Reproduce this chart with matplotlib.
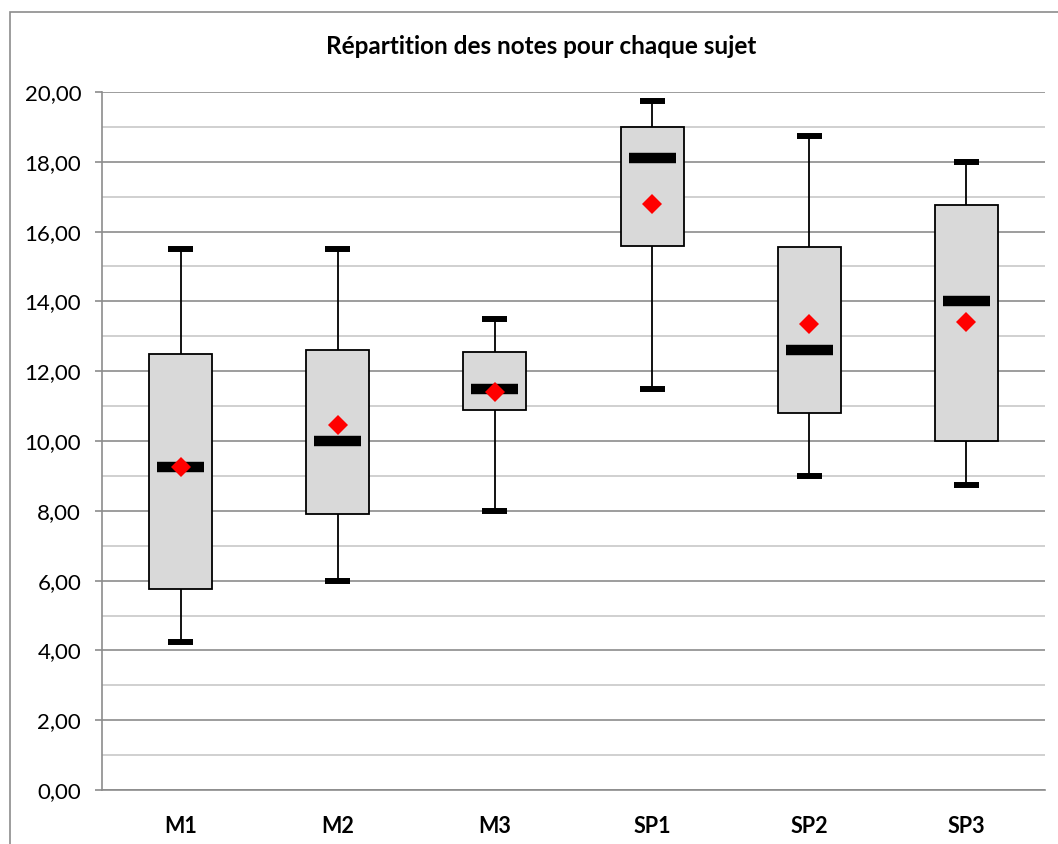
import matplotlib
matplotlib.use("Agg")
import matplotlib.pyplot as plt
from matplotlib.patches import Rectangle
from matplotlib.ticker import FuncFormatter, MultipleLocator

# données
sujets = ["M1", "M2", "M3", "SP1", "SP2", "SP3"]
minimums = [4.25, 6.0, 8.0, 11.5, 9.0, 8.75]
q1 = [5.75, 7.9, 10.9, 15.6, 10.8, 10.0]
medianes = [9.25, 10.0, 11.5, 18.1, 12.6, 14.0]
q3 = [12.5, 12.6, 12.55, 19.0, 15.55, 16.75]
maximums = [15.5, 15.5, 13.5, 19.75, 18.75, 18.0]
moyennes = [9.25, 10.45, 11.4, 16.8, 13.35, 13.4]

plt.rcParams['font.family'] = ['Lato', 'DejaVu Sans']

fig = plt.figure(figsize=(10.58, 8.44), dpi=100)
ax = fig.add_axes([102 / 1058, 1 - 790 / 844, 943 / 1058, 698 / 844])

x = list(range(1, len(sujets) + 1))
hauteurs = [b - a for a, b in zip(q1, q3)]

# boites
ax.bar(x, hauteurs, bottom=q1, width=0.4, color="#d9d9d9",
       edgecolor="black", linewidth=1.3, zorder=3)
# moustaches
ax.vlines(x, minimums, q1, color="black", linewidth=1.3, zorder=2)
ax.vlines(x, q3, maximums, color="black", linewidth=1.3, zorder=2)
# extremites
for xi, lo, hi in zip(x, minimums, maximums):
    ax.plot([xi - 0.08, xi + 0.08], [lo, lo], color="black", linewidth=4.3,
            solid_capstyle="butt", zorder=4)
    ax.plot([xi - 0.08, xi + 0.08], [hi, hi], color="black", linewidth=4.3,
            solid_capstyle="butt", zorder=4)
# medianes
for xi, m in zip(x, medianes):
    ax.plot([xi - 0.15, xi + 0.15], [m, m], color="black", linewidth=7.5,
            solid_capstyle="butt", zorder=4)
# moyennes
ax.plot(x, moyennes, linestyle="none", marker="D", markersize=10,
        color="#ff0000", markeredgewidth=0, zorder=5)

ax.set_xlim(0.5, 6.5)
ax.set_ylim(0, 20)
ax.set_xticks(x)
ax.set_xticklabels(sujets, fontweight="bold")
ax.yaxis.set_major_locator(MultipleLocator(2))
ax.yaxis.set_minor_locator(MultipleLocator(1))
ax.yaxis.set_major_formatter(FuncFormatter(lambda v, p: f"{v:.2f}".replace(".", ",")))

ax.grid(axis="y", which="major", color="#8c8c8c", linewidth=1.2, zorder=0)
ax.grid(axis="y", which="minor", color="#c8c8c8", linewidth=1.2, zorder=0)
ax.set_axisbelow(True)

for s in ["top", "right"]:
    ax.spines[s].set_visible(False)
ax.spines["left"].set_color("#8c8c8c")
ax.spines["bottom"].set_color("#8c8c8c")
ax.spines["left"].set_linewidth(1.2)
ax.spines["bottom"].set_linewidth(1.2)

ax.tick_params(axis="y", which="major", direction="out", length=5, width=1.2,
               color="#8c8c8c", labelsize=16, pad=10)
ax.tick_params(axis="y", which="minor", length=0)
ax.tick_params(axis="x", length=0, labelsize=15.5, pad=19)

fig.text(541 / 1058, 1 - 47 / 844, "Répartition des notes pour chaque sujet",
         ha="center", va="center", fontsize=17.5, fontweight="bold")

# cadre du graphique
fig.add_artist(Rectangle((10 / 1058, -0.1), 1.2, 1 - 12 / 844 + 0.1,
                         transform=fig.transFigure, fill=False,
                         edgecolor="#8c8c8c", linewidth=1.2))

fig.savefig("out.png", dpi=100)
